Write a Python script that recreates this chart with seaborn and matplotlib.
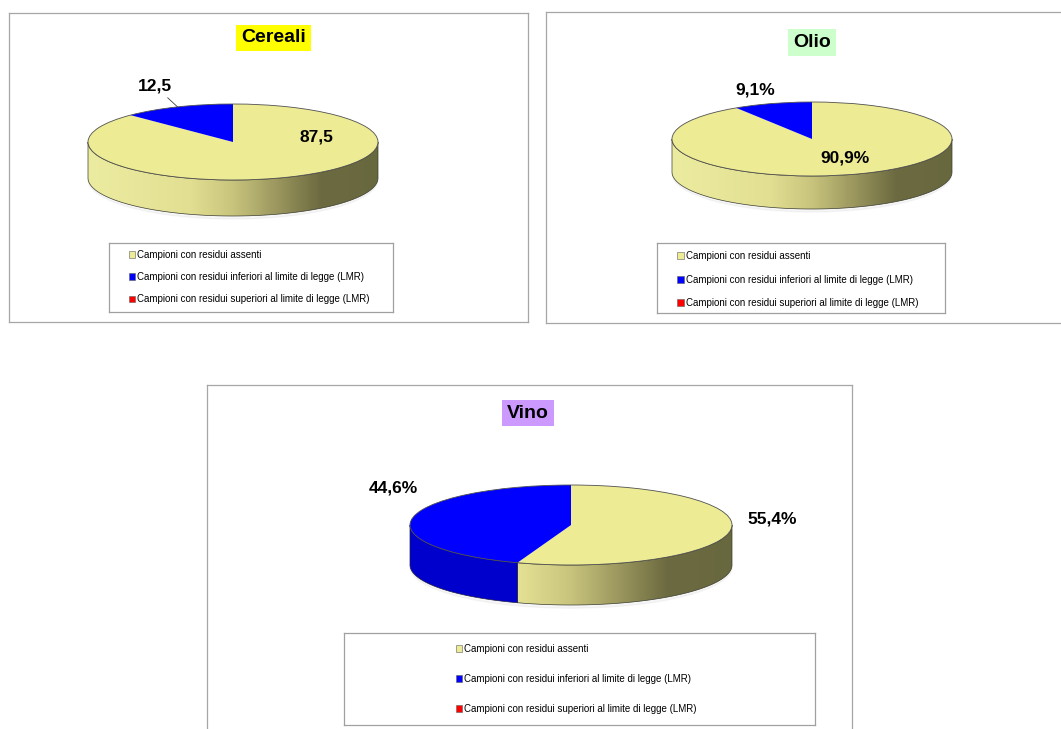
import numpy as np
import matplotlib
matplotlib.use("Agg")
import matplotlib.pyplot as plt
import seaborn as sns
from matplotlib.patches import Patch, Polygon, Ellipse
from matplotlib.colors import LinearSegmentedColormap

W, H = 1061, 729

# Data
categories = ["Campioni con residui assenti",
              "Campioni con residui inferiori al limite di legge (LMR)",
              "Campioni con residui superiori al limite di legge (LMR)"]
titles = ["Cereali", "Olio", "Vino"]
cereali = [87.5, 12.5, 0.0]
olio = [90.9, 9.1, 0.0]
vino = [55.4, 44.6, 0.0]
suffixes = ["", "%", "%"]

top_colors = ["#EDEB94", "#0000FF", "#FF0000"]
side_blue = "#0000CC"
title_bg = ["#FFFF00", "#CCFFCC", "#CC99FF"]

# gradient on the yellow side (light on the left, olive on the right)
side_cmap = LinearSegmentedColormap.from_list("side", [
    (0.0, "#ECECA0"), (0.35, "#E2DF92"), (0.5, "#C8C47D"),
    (0.65, "#9B975E"), (0.8, "#6C6A40"), (1.0, "#68683E")])

sns.set_theme(style="white")
plt.rcParams["font.family"] = ["Liberation Sans", "DejaVu Sans"]
plt.rcParams["text.color"] = "black"

fig = plt.figure(figsize=(W / 100, H / 100), dpi=100)
fig.patch.set_facecolor("white")


def px_axes(x0, y0, x1, y1):
    # axes from pixel box (top-left origin)
    return fig.add_axes([x0 / W, 1 - y1 / H, (x1 - x0) / W, (y1 - y0) / H])


def boxed(ax, color="#A6A6A6", lw=0.9):
    ax.set_xticks([])
    ax.set_yticks([])
    ax.set_facecolor("white")
    for s in ax.spines.values():
        s.set_color(color)
        s.set_linewidth(lw)


def front_segments(t1, t2):
    segs = []
    for k in (-720, -360, 0, 360):
        lo, hi = max(t1, 180 + k), min(t2, 360 + k)
        if hi > lo:
            segs.append((lo, hi))
    return segs


def draw_pie(ax, values, h):
    wedges, _ = ax.pie(values, colors=top_colors, startangle=90, counterclock=False,
                       wedgeprops=dict(linewidth=0, zorder=3))
    # faint shadow
    ax.add_patch(Ellipse((0.0, -h - 0.05), 2.0, 2.06, color="black", alpha=0.035, zorder=0))
    # side faces of the slices that face the viewer
    for i, w in enumerate(wedges):
        for lo, hi in front_segments(w.theta1, w.theta2):
            th = np.radians(np.linspace(lo, hi, 120))
            top = np.column_stack([np.cos(th), np.sin(th)])
            bot = np.column_stack([np.cos(th), np.sin(th) - h])[::-1]
            verts = np.vstack([top, bot])
            if i == 0:
                poly = Polygon(verts, closed=True, facecolor="none", edgecolor="#3c3c30",
                               linewidth=0.5, zorder=2)
                ax.add_patch(poly)
                grad = np.linspace(0, 1, 256).reshape(1, -1)
                im = ax.imshow(grad, cmap=side_cmap, extent=(-1, 1, -1 - h, 1),
                               aspect="auto", interpolation="bicubic", zorder=1)
                im.set_clip_path(poly)
            else:
                ax.add_patch(Polygon(verts, closed=True, facecolor=side_blue if i == 1 else "#CC0000",
                                     edgecolor="#202040", linewidth=0.5, zorder=2))
    # outline of the top face
    ax.pie([1], colors=["none"], startangle=90,
           wedgeprops=dict(edgecolor="#505050", linewidth=0.6, zorder=4))
    return wedges


panels = [
    dict(values=cereali, box=(9, 13, 528, 322), title_xy=(273.5, 38),
         pie=(233, 142, 145, 38, 36), legend_box=(109, 243, 393, 312),
         legend_at=(128.5, 250), spacing=1.25,
         labels=[(316, 137), (155, 86)], leader=True),
    dict(values=olio, box=(546, 12, 1075, 323), title_xy=(812, 42.5),
         pie=(812, 139, 140, 37, 33), legend_box=(657, 243, 945, 313),
         legend_at=(677.5, 251), spacing=1.4,
         labels=[(845, 158), (755, 90)], leader=False),
    dict(values=vino, box=(207, 385, 852, 745), title_xy=(528, 413),
         pie=(571, 525, 161, 40, 40), legend_box=(344, 633, 815, 725),
         legend_at=(455.5, 644), spacing=2.07,
         labels=[(772, 519), (393, 488)], leader=False),
]

for k, p in enumerate(panels):
    boxed(px_axes(*p["box"]))

    cx, cy, a, b, t = p["pie"]
    h = t / b
    m = 12
    ax = px_axes(cx - a - m, cy - b - m, cx + a + m, cy + b + t + m)
    ax.set_facecolor("none")
    wedges = draw_pie(ax, p["values"], h)
    ax.set_aspect("auto")
    ax.set_xlim(-1 - m / a, 1 + m / a)
    ax.set_ylim(-1 - h - m / b, 1 + m / b)
    ax.axis("off")

    # data labels
    for i, (lx, ly) in enumerate(p["labels"]):
        txt = f"{p['values'][i]:.1f}".replace(".", ",") + suffixes[k]
        pos = ((lx - cx) / a, (cy - ly) / b)
        if p["leader"] and i == 1:
            mid = np.radians((wedges[i].theta1 + wedges[i].theta2) / 2)
            ax.annotate(txt, xy=(np.cos(mid), np.sin(mid)), xytext=pos,
                        ha="center", va="center", fontsize=12.5, fontweight="bold",
                        color="black", annotation_clip=False, zorder=6,
                        arrowprops=dict(arrowstyle="-", color="#404040", lw=0.6,
                                        shrinkA=1, shrinkB=0))
        else:
            ax.text(*pos, txt, ha="center", va="center", fontsize=12.5,
                    fontweight="bold", color="black", zorder=6)

    # title with coloured background
    tx, ty = p["title_xy"]
    fig.text(tx / W, 1 - ty / H, titles[k], ha="center", va="center", fontsize=14,
             fontweight="bold", color="black",
             bbox=dict(boxstyle="square,pad=0.25", facecolor=title_bg[k], edgecolor="none"))

    # legend box and entries
    boxed(px_axes(*p["legend_box"]), color="#A0A0A0", lw=0.9)
    handles = [Patch(facecolor=c, edgecolor="#606060", linewidth=0.4) for c in top_colors]
    lx, ly = p["legend_at"]
    fig.legend(handles, categories, loc="upper left", bbox_to_anchor=(lx / W, 1 - ly / H),
               frameon=False, fontsize=7, handlelength=0.7, handleheight=0.7,
               handletextpad=0.2, labelspacing=p["spacing"], borderpad=0, borderaxespad=0,
               labelcolor="black")

fig.savefig("out.png", dpi=100)
